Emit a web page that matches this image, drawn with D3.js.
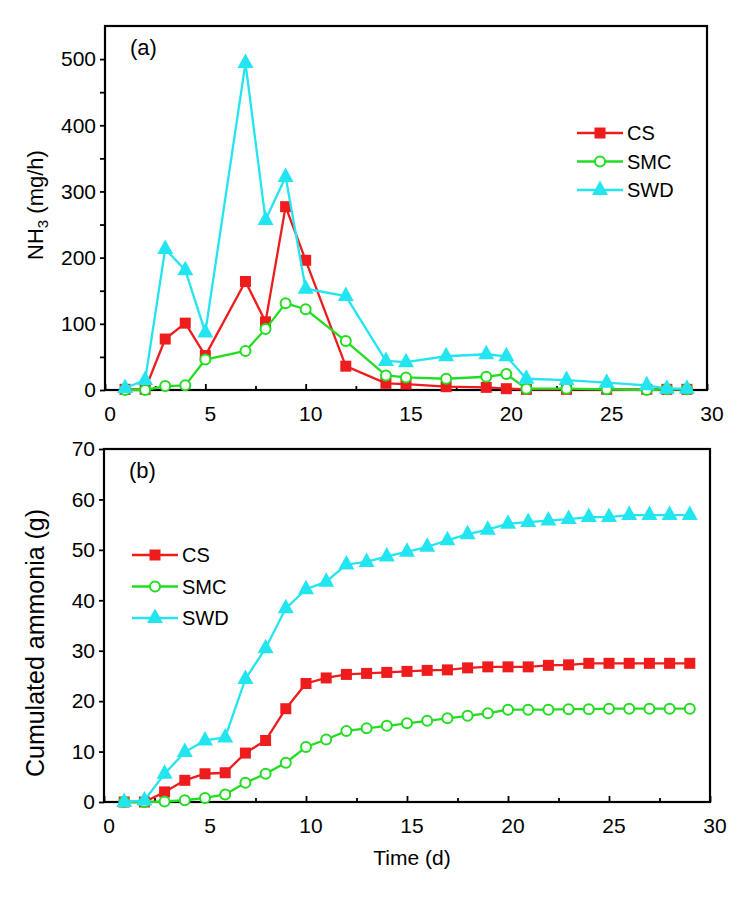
<!DOCTYPE html>
<html><head><meta charset="utf-8">
<script src="https://cdn.jsdelivr.net/npm/d3@7"></script>
<style>body{margin:0;background:#fff} text{font-family:"Liberation Sans",Arial,sans-serif;fill:#000}</style>
</head><body><svg id="c" width="751" height="899"></svg>
<script>
const seriesNames = ["CS", "SMC", "SWD"];
const seriesColors = ["#ee1c1c", "#22dd22", "#22e5f0"];
const seriesMarkers = ["square", "circle", "triangle"];

// Panel (a): NH3 emission rate (mg/h)
const daysA = [1,2,3,4,5,7,8,9,10,12,14,15,17,19,20,21,23,25,27,28,29];
const csA  = [1,1,77,101,52,164,103,277,196,36,10,9,5,4,2,1,1,1,1,1,1];
const smcA = [0,0,6,7,46,59,92,131,122,74,22,19,17,20,24,2,2,1,0,1,1];
const swdA = [3,15,213,181,87,494,257,322,153,142,44,42,51,54,51,17,15,11,7,2,2];

// Panel (b): cumulated ammonia (g)
const daysB = [1,2,3,4,5,6,7,8,9,10,11,12,13,14,15,16,17,18,19,20,21,22,23,24,25,26,27,28,29];
const csB  = [0,0,2.0,4.3,5.6,5.8,9.7,12.2,18.5,23.5,24.6,25.3,25.5,25.7,25.9,26.1,26.2,26.6,26.8,26.8,26.8,27.1,27.2,27.5,27.5,27.5,27.5,27.5,27.5];
const smcB = [0,0,0.1,0.35,0.8,1.5,3.8,5.6,7.8,10.9,12.4,14.1,14.6,15.1,15.6,16.1,16.6,17.1,17.6,18.3,18.3,18.3,18.4,18.4,18.5,18.5,18.5,18.5,18.5];
const swdB = [0,0.3,5.6,9.9,12.2,12.8,24.4,30.5,38.4,42.2,43.7,47.1,47.6,48.7,49.6,50.6,51.9,53.1,54.0,55.2,55.5,55.8,56.1,56.5,56.5,56.9,56.9,56.9,56.9];

// Ticks
const xMajorTicks = [0,5,10,15,20,25,30];
const xMinorTicks = [2.5,7.5,12.5,17.5,22.5,27.5];
const yMajorTicksA = [0,100,200,300,400,500];
const yMinorTicksA = [50,150,250,350,450];
const yMajorTicksB = [0,10,20,30,40,50,60,70];
const yMinorTicksB = [];

const svg = d3.select("#c");

function markerPath(type) {
  if (type === "square") return "M-5.5,-5.5H5.5V5.5H-5.5Z";
  if (type === "triangle") return "M0,-9.5L8,5L-8,5Z";
  return null;
}

function drawMarker(g, type, color, x, y) {
  if (type === "circle") {
    g.append("circle").attr("cx", x).attr("cy", y).attr("r", 5)
      .attr("fill", "#fff").attr("stroke", color).attr("stroke-width", 2);
  } else {
    g.append("path").attr("d", markerPath(type))
      .attr("transform", `translate(${x},${y})`).attr("fill", color);
  }
}

function drawPanel(cfg) {
  const x = d3.scaleLinear().domain([0, 30]).range([cfg.left, cfg.right]);
  const y = d3.scaleLinear().domain(cfg.yDomain).range([cfg.bottom, cfg.top]);
  const g = svg.append("g");

  // x axis: inward ticks
  g.append("g").attr("transform", `translate(0,${cfg.bottom})`)
    .call(d3.axisBottom(x).tickValues(xMajorTicks).tickSize(-6).tickPadding(0).tickFormat(""));
  g.append("g").attr("transform", `translate(0,${cfg.bottom})`)
    .call(d3.axisBottom(x).tickValues(xMinorTicks).tickSize(-4).tickFormat(""));
  g.selectAll(".domain").remove();
  g.append("g").selectAll("text").data(xMajorTicks).join("text")
    .attr("x", d => x(d) + 5).attr("y", cfg.bottom + 31)
    .attr("text-anchor", "middle").attr("font-size", 21).text(d => d);

  // y axis: outward ticks
  g.append("g").attr("transform", `translate(${cfg.left},0)`)
    .call(d3.axisLeft(y).tickValues(cfg.yMajor).tickSize(5).tickPadding(4).tickFormat(d3.format("d")))
    .call(a => a.selectAll("text").attr("font-size", 21).attr("font-family", "Liberation Sans, Arial, sans-serif").attr("fill", "#000"))
    .call(a => a.select(".domain").remove());
  if (cfg.yMinor.length)
    g.append("g").attr("transform", `translate(${cfg.left},0)`)
      .call(d3.axisLeft(y).tickValues(cfg.yMinor).tickSize(5).tickFormat(""))
      .call(a => a.select(".domain").remove());
  g.selectAll(".tick line").attr("stroke", "#000").attr("stroke-width", 1.8);

  // frame
  g.append("rect").attr("x", cfg.left).attr("y", cfg.top)
    .attr("width", cfg.right - cfg.left).attr("height", cfg.bottom - cfg.top)
    .attr("fill", "none").attr("stroke", "#000").attr("stroke-width", 2.2);

  // series
  const line = d3.line().x(d => x(d[0])).y(d => y(d[1]));
  cfg.series.forEach((vals, i) => {
    const pts = cfg.days.map((d, k) => [d, vals[k]]);
    const sg = g.append("g");
    sg.append("path").attr("d", line(pts)).attr("fill", "none")
      .attr("stroke", seriesColors[i]).attr("stroke-width", 2.3);
    pts.forEach(p => drawMarker(sg, seriesMarkers[i], seriesColors[i], x(p[0]), y(p[1])));
  });

  // legend
  seriesNames.forEach((name, i) => {
    const ly = cfg.legY + i * cfg.legDy;
    const lg = g.append("g");
    lg.append("line").attr("x1", cfg.legX).attr("x2", cfg.legX + 46)
      .attr("y1", ly).attr("y2", ly).attr("stroke", seriesColors[i]).attr("stroke-width", 2.3);
    drawMarker(lg, seriesMarkers[i], seriesColors[i], cfg.legX + 23, ly);
    lg.append("text").attr("x", cfg.legX + 50).attr("y", ly).attr("dy", "0.36em")
      .attr("font-size", 20).text(name);
  });

  // panel label
  g.append("text").attr("x", cfg.left + 25).attr("y", cfg.top + 29)
    .attr("font-size", 22).text(cfg.label);

  // y title
  const yt = g.append("text").attr("transform", `translate(${cfg.titleX},${cfg.titleY}) rotate(-90)`)
    .attr("text-anchor", "middle").attr("font-size", cfg.titleSize);
  cfg.yTitle(yt);
  return x;
}

drawPanel({
  left: 105, right: 707, top: 26, bottom: 390,
  yDomain: [0, 550], yMajor: yMajorTicksA, yMinor: yMinorTicksA,
  days: daysA, series: [csA, smcA, swdA],
  legX: 577, legY: 133, legDy: 28.5, label: "(a)",
  titleX: 43, titleY: 205, titleSize: 22,
  yTitle: t => { t.append("tspan").text("NH");
    t.append("tspan").attr("font-size", 15).attr("dy", 5).text("3");
    t.append("tspan").attr("dy", -5).text(" (mg/h)"); }
});

drawPanel({
  left: 104, right: 710, top: 449, bottom: 802,
  yDomain: [0, 70], yMajor: yMajorTicksB, yMinor: yMinorTicksB,
  days: daysB, series: [csB, smcB, swdB],
  legX: 132, legY: 555, legDy: 31.5, label: "(b)",
  titleX: 44, titleY: 643, titleSize: 25,
  yTitle: t => t.text("Cumulated ammonia (g)")
});

svg.append("text").attr("x", 412).attr("y", 865).attr("text-anchor", "middle")
  .attr("font-size", 21).text("Time (d)");
</script></body></html>
